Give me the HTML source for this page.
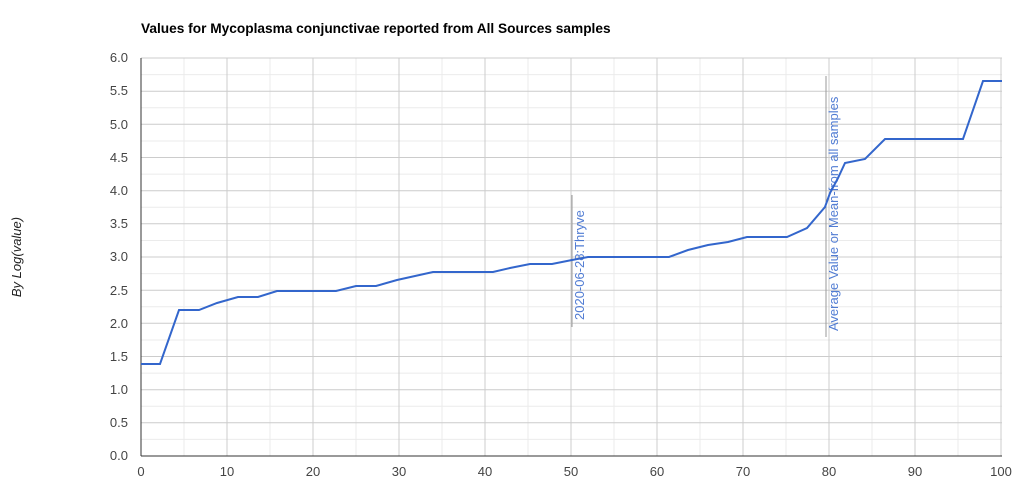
<!DOCTYPE html>
<html><head><style>body{margin:0;background:#fff}svg{display:block;font-family:"Liberation Sans",Arial,sans-serif}</style></head>
<body>
<svg width="1023" height="486" viewBox="0 0 1023 486" xmlns="http://www.w3.org/2000/svg">
<rect width="1023" height="486" fill="#fff"/>
<text x="141" y="33" font-size="13.7" font-weight="bold" fill="#000">Values for Mycoplasma conjunctivae reported from All Sources samples</text>
<g stroke="#ebebeb" stroke-width="1">
<line x1="141" y1="74.6" x2="1002" y2="74.6"/><line x1="141" y1="107.8" x2="1002" y2="107.8"/><line x1="141" y1="141" x2="1002" y2="141"/><line x1="141" y1="174.1" x2="1002" y2="174.1"/><line x1="141" y1="207.3" x2="1002" y2="207.3"/><line x1="141" y1="240.5" x2="1002" y2="240.5"/><line x1="141" y1="273.6" x2="1002" y2="273.6"/><line x1="141" y1="306.8" x2="1002" y2="306.8"/><line x1="141" y1="340" x2="1002" y2="340"/><line x1="141" y1="373.1" x2="1002" y2="373.1"/><line x1="141" y1="406.3" x2="1002" y2="406.3"/><line x1="141" y1="439.4" x2="1002" y2="439.4"/>
<line x1="184" y1="58" x2="184" y2="456"/><line x1="270" y1="58" x2="270" y2="456"/><line x1="356" y1="58" x2="356" y2="456"/><line x1="442" y1="58" x2="442" y2="456"/><line x1="528" y1="58" x2="528" y2="456"/><line x1="614" y1="58" x2="614" y2="456"/><line x1="700" y1="58" x2="700" y2="456"/><line x1="786" y1="58" x2="786" y2="456"/><line x1="872" y1="58" x2="872" y2="456"/><line x1="958" y1="58" x2="958" y2="456"/>
</g>
<g stroke="#cccccc" stroke-width="1">
<line x1="141" y1="58" x2="1002" y2="58"/><line x1="141" y1="91.2" x2="1002" y2="91.2"/><line x1="141" y1="124.3" x2="1002" y2="124.3"/><line x1="141" y1="157.5" x2="1002" y2="157.5"/><line x1="141" y1="190.7" x2="1002" y2="190.7"/><line x1="141" y1="223.8" x2="1002" y2="223.8"/><line x1="141" y1="257" x2="1002" y2="257"/><line x1="141" y1="290.2" x2="1002" y2="290.2"/><line x1="141" y1="323.3" x2="1002" y2="323.3"/><line x1="141" y1="356.5" x2="1002" y2="356.5"/><line x1="141" y1="389.7" x2="1002" y2="389.7"/><line x1="141" y1="422.8" x2="1002" y2="422.8"/>
<line x1="227" y1="58" x2="227" y2="456"/><line x1="313" y1="58" x2="313" y2="456"/><line x1="399" y1="58" x2="399" y2="456"/><line x1="485" y1="58" x2="485" y2="456"/><line x1="571" y1="58" x2="571" y2="456"/><line x1="657" y1="58" x2="657" y2="456"/><line x1="743" y1="58" x2="743" y2="456"/><line x1="829" y1="58" x2="829" y2="456"/><line x1="915" y1="58" x2="915" y2="456"/><line x1="1001" y1="58" x2="1001" y2="456"/>
</g>
<line x1="141" y1="58" x2="141" y2="456" stroke="#333"/>
<line x1="141" y1="456" x2="1002" y2="456" stroke="#333"/>
<g font-size="13" fill="#444" text-anchor="end">
<text x="128" y="62">6.0</text><text x="128" y="95">5.5</text><text x="128" y="129">5.0</text><text x="128" y="162">4.5</text><text x="128" y="195">4.0</text><text x="128" y="228">3.5</text><text x="128" y="261">3.0</text><text x="128" y="295">2.5</text><text x="128" y="328">2.0</text><text x="128" y="361">1.5</text><text x="128" y="394">1.0</text><text x="128" y="427">0.5</text><text x="128" y="460">0.0</text>
</g>
<g font-size="13" fill="#444" text-anchor="middle">
<text x="141" y="476">0</text><text x="227" y="476">10</text><text x="313" y="476">20</text><text x="399" y="476">30</text><text x="485" y="476">40</text><text x="571" y="476">50</text><text x="657" y="476">60</text><text x="743" y="476">70</text><text x="829" y="476">80</text><text x="915" y="476">90</text><text x="1001" y="476">100</text>
</g>
<text transform="translate(21,257) rotate(-90)" font-size="13" font-style="italic" fill="#222" text-anchor="middle">By Log(value)</text>
<line x1="572" y1="195" x2="572" y2="327" stroke="#999"/>
<line x1="826" y1="76" x2="826" y2="337" stroke="#999"/>
<polyline fill="none" stroke="#3366cc" stroke-width="2" points="141,364 160,364 179,310 199,310 217,303 238,297 258,297 277,291 336,291 356,286 376,286 397,280 433,272 493,272 510,268 530,264 552,264 572,260 588,257 669,257 688,250 708,245 728,242 747,237 787,237 807,228 825,207 830,193 838,178 845,163 865,159 885,139 963,139 983,81 1002,81"/>
<text transform="translate(584,320) rotate(-90)" font-size="13" fill="#3366cc" opacity="0.85">2020-06-28:Thryve</text>
<text transform="translate(838,331) rotate(-90)" font-size="13" fill="#3366cc" opacity="0.85">Average Value or Mean-from all samples</text>
</svg>
</body></html>
